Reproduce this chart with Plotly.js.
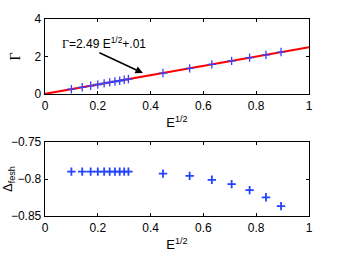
<!DOCTYPE html>
<html><head><meta charset="utf-8">
<script src="https://cdn.plot.ly/plotly-3.0.1.min.js"></script>
<style>html,body{margin:0;padding:0;background:#fff}#c{width:342px;height:258px}</style>
</head><body><div id="c"></div>
<script>
const sqrtE = [0.1, 0.141, 0.173, 0.2, 0.224, 0.245, 0.265, 0.283, 0.3, 0.316, 0.447, 0.548, 0.632, 0.707, 0.775, 0.837, 0.894];
const gamma = [0.26, 0.36, 0.44, 0.51, 0.57, 0.62, 0.67, 0.71, 0.76, 0.80, 1.12, 1.37, 1.58, 1.77, 1.94, 2.09, 2.24];
const deltaFesh = [-0.790, -0.790, -0.790, -0.790, -0.790, -0.790, -0.790, -0.790, -0.790, -0.790, -0.7927, -0.7958, -0.8011, -0.8069, -0.815, -0.8247, -0.8367];
const fitX = [0, 1];
const fitSlope = 2.49, fitIntercept = 0.01;
const fitY = fitX.map(v => fitSlope * v + fitIntercept);
const xTicks = [0, 0.2, 0.4, 0.6, 0.8, 1];
const xTickText = ['0', '0.2', '0.4', '0.6', '0.8', '1'];
const y2Ticks = [-0.85, -0.8, -0.75];
const y2TickText = ['−0.85', '−0.8', '−0.75'];

const font = {family: 'Liberation Sans, Arial, sans-serif', size: 12, color: '#000'};
const titleFont = {family: 'Liberation Sans, Arial, sans-serif', size: 13, color: '#000'};
const axBase = {showline: true, mirror: 'ticks', linecolor: '#000', linewidth: 1.3,
  ticks: 'inside', ticklen: 3, tickcolor: '#000', showgrid: false, zeroline: false,
  tickfont: font};

const traces = [
  {x: fitX, y: fitY, mode: 'lines', line: {color: '#ff0000', width: 2}, xaxis: 'x', yaxis: 'y', hoverinfo: 'skip'},
  {x: sqrtE, y: gamma, mode: 'markers', marker: {symbol: 'cross-thin', size: 6, line: {color: '#3344ff', width: 1.3}}, xaxis: 'x', yaxis: 'y'},
  {x: sqrtE, y: deltaFesh, mode: 'markers', marker: {symbol: 'cross-thin', size: 6, line: {color: '#2244ff', width: 1.8}}, xaxis: 'x2', yaxis: 'y2'}
];

const layout = {
  width: 342, height: 258, showlegend: false,
  margin: {l: 45, r: 33, t: 19, b: 42},
  paper_bgcolor: '#fff', plot_bgcolor: '#fff', font: font,
  xaxis: Object.assign({}, axBase, {domain: [0, 1], range: [0, 1], tickvals: xTicks, ticktext: xTickText, anchor: 'y',
    title: {text: 'E<sup>1/2</sup>', font: titleFont, standoff: 6}}),
  yaxis: Object.assign({}, axBase, {domain: [0.619, 1], range: [0, 4], tickvals: [0, 2, 4], anchor: 'x',
    title: {text: 'Γ', font: {family: 'Liberation Serif, Times New Roman, serif', size: 14, color: '#000'}, standoff: 10}}),
  xaxis2: Object.assign({}, axBase, {domain: [0, 1], range: [0, 1], tickvals: xTicks, ticktext: xTickText, anchor: 'y2',
    title: {text: 'E<sup>1/2</sup>', font: titleFont, standoff: 6}}),
  yaxis2: Object.assign({}, axBase, {domain: [0, 0.3756], range: [-0.85, -0.75], tickvals: y2Ticks, ticktext: y2TickText, anchor: 'x2',
    title: {text: 'Δ<sub>fesh</sub>', font: titleFont, standoff: 0}}),
  annotations: [{
    xref: 'x', yref: 'y', x: 0.371, y: 1.12, ax: -45, ay: -21,
    text: '', showarrow: true, arrowhead: 2, arrowsize: 1, arrowwidth: 1.5, arrowcolor: '#000'
  }, {
    xref: 'paper', yref: 'paper', x: (104 - 45) / 264, y: (216 - 43) / 197, xanchor: 'center', yanchor: 'middle',
    text: '<span style="font-family:Liberation Serif, serif">Γ</span>=2.49 E<sup>1/2</sup>+.01', showarrow: false, font: font
  }]
};
Plotly.newPlot('c', traces, layout, {staticPlot: true, displayModeBar: false});
</script></body></html>
